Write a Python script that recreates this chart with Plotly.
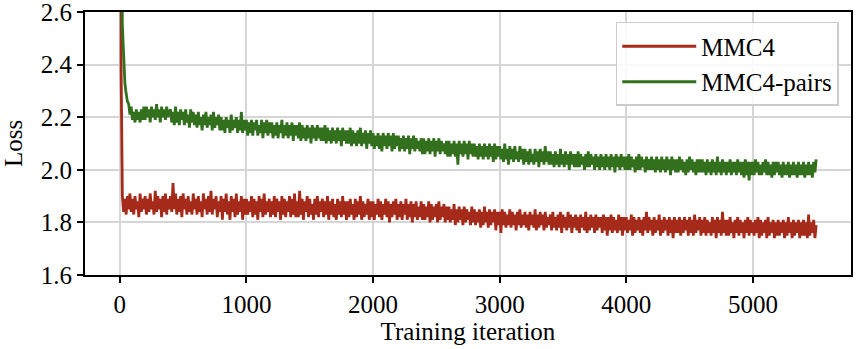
import plotly.graph_objects as go

iters = list(range(0, 5501, 10))

mmc4 = [
    10.5, 2.40, 1.90, 1.84, 1.89, 1.83, 1.90, 1.85, 1.91, 1.84, 1.89, 1.83, 1.90, 1.85, 1.88, 1.82, 1.91, 1.84, 1.89, 1.85,
    1.90, 1.83, 1.89, 1.84, 1.91, 1.85, 1.88, 1.83, 1.92, 1.84, 1.90, 1.85, 1.89, 1.82, 1.90, 1.84, 1.91, 1.83, 1.89, 1.85,
    1.90, 1.84, 1.95, 1.85, 1.91, 1.83, 1.89, 1.84, 1.90, 1.82, 1.91, 1.85, 1.89, 1.83, 1.90, 1.84, 1.88, 1.83, 1.91, 1.85,
    1.89, 1.83, 1.90, 1.84, 1.88, 1.82, 1.91, 1.85, 1.89, 1.83, 1.90, 1.84, 1.92, 1.83, 1.89, 1.85, 1.90, 1.82, 1.88, 1.84,
    1.90, 1.81, 1.89, 1.84, 1.91, 1.83, 1.88, 1.81, 1.90, 1.84, 1.89, 1.82, 1.91, 1.83, 1.88, 1.84, 1.90, 1.81, 1.89, 1.83,
    1.89, 1.83, 1.88, 1.84, 1.90, 1.82, 1.89, 1.83, 1.88, 1.81, 1.90, 1.84, 1.89, 1.82, 1.91, 1.83, 1.88, 1.84, 1.89, 1.82,
    1.88, 1.83, 1.90, 1.82, 1.89, 1.84, 1.88, 1.81, 1.90, 1.83, 1.89, 1.82, 1.88, 1.84, 1.90, 1.82, 1.89, 1.83, 1.91, 1.82,
    1.88, 1.82, 1.92, 1.83, 1.89, 1.81, 1.88, 1.84, 1.90, 1.82, 1.89, 1.83, 1.87, 1.81, 1.89, 1.83, 1.90, 1.82, 1.88, 1.84,
    1.89, 1.82, 1.88, 1.83, 1.90, 1.81, 1.88, 1.83, 1.89, 1.82, 1.87, 1.81, 1.89, 1.83, 1.88, 1.82, 1.90, 1.83, 1.88, 1.81,
    1.88, 1.82, 1.89, 1.83, 1.87, 1.81, 1.89, 1.82, 1.88, 1.83, 1.90, 1.81, 1.88, 1.82, 1.87, 1.83, 1.89, 1.81, 1.88, 1.82,
    1.88, 1.81, 1.87, 1.83, 1.89, 1.82, 1.88, 1.81, 1.87, 1.83, 1.89, 1.82, 1.88, 1.80, 1.87, 1.82, 1.88, 1.83, 1.89, 1.81,
    1.87, 1.82, 1.88, 1.81, 1.87, 1.83, 1.89, 1.81, 1.87, 1.82, 1.88, 1.80, 1.87, 1.82, 1.88, 1.81, 1.86, 1.82, 1.88, 1.81,
    1.87, 1.81, 1.86, 1.82, 1.88, 1.80, 1.87, 1.81, 1.86, 1.82, 1.87, 1.80, 1.88, 1.81, 1.86, 1.82, 1.87, 1.80, 1.86, 1.81,
    1.86, 1.80, 1.85, 1.81, 1.87, 1.79, 1.85, 1.80, 1.86, 1.81, 1.85, 1.79, 1.86, 1.80, 1.85, 1.81, 1.84, 1.79, 1.86, 1.80,
    1.85, 1.79, 1.84, 1.80, 1.85, 1.78, 1.84, 1.79, 1.86, 1.80, 1.84, 1.78, 1.85, 1.79, 1.84, 1.80, 1.85, 1.77, 1.84, 1.79,
    1.84, 1.76, 1.85, 1.79, 1.84, 1.78, 1.83, 1.79, 1.85, 1.78, 1.84, 1.79, 1.83, 1.77, 1.84, 1.79, 1.85, 1.78, 1.83, 1.79,
    1.84, 1.78, 1.83, 1.77, 1.84, 1.79, 1.83, 1.78, 1.85, 1.77, 1.83, 1.78, 1.84, 1.79, 1.83, 1.77, 1.84, 1.78, 1.82, 1.79,
    1.83, 1.77, 1.84, 1.78, 1.82, 1.77, 1.83, 1.78, 1.84, 1.76, 1.83, 1.78, 1.82, 1.77, 1.84, 1.78, 1.83, 1.76, 1.82, 1.78,
    1.83, 1.77, 1.82, 1.76, 1.83, 1.78, 1.82, 1.77, 1.84, 1.76, 1.82, 1.77, 1.83, 1.78, 1.82, 1.76, 1.83, 1.77, 1.82, 1.78,
    1.82, 1.76, 1.83, 1.77, 1.82, 1.75, 1.82, 1.77, 1.83, 1.76, 1.82, 1.77, 1.81, 1.76, 1.83, 1.77, 1.82, 1.75, 1.82, 1.77,
    1.82, 1.76, 1.81, 1.77, 1.83, 1.75, 1.82, 1.76, 1.81, 1.77, 1.82, 1.76, 1.81, 1.75, 1.82, 1.77, 1.84, 1.76, 1.82, 1.77,
    1.81, 1.75, 1.82, 1.76, 1.81, 1.77, 1.83, 1.75, 1.81, 1.76, 1.82, 1.77, 1.81, 1.75, 1.82, 1.76, 1.81, 1.74, 1.82, 1.76,
    1.81, 1.76, 1.82, 1.75, 1.81, 1.76, 1.82, 1.77, 1.81, 1.75, 1.82, 1.76, 1.81, 1.75, 1.83, 1.76, 1.81, 1.77, 1.82, 1.75,
    1.81, 1.76, 1.82, 1.75, 1.81, 1.76, 1.80, 1.75, 1.82, 1.76, 1.81, 1.74, 1.82, 1.76, 1.81, 1.75, 1.84, 1.76, 1.81, 1.75,
    1.81, 1.75, 1.82, 1.76, 1.80, 1.74, 1.81, 1.76, 1.82, 1.75, 1.81, 1.76, 1.80, 1.74, 1.81, 1.76, 1.82, 1.75, 1.81, 1.76,
    1.80, 1.75, 1.81, 1.76, 1.82, 1.74, 1.81, 1.75, 1.80, 1.76, 1.81, 1.74, 1.82, 1.75, 1.80, 1.76, 1.81, 1.74, 1.80, 1.75,
    1.81, 1.75, 1.80, 1.76, 1.81, 1.74, 1.80, 1.75, 1.82, 1.76, 1.80, 1.74, 1.81, 1.75, 1.80, 1.76, 1.81, 1.74, 1.80, 1.75,
    1.81, 1.75, 1.80, 1.74, 1.83, 1.75, 1.80, 1.76, 1.81, 1.74, 1.79,
]

mmc4_pairs = [
    10.5, 3.20, 2.55, 2.40, 2.33, 2.29, 2.26, 2.25, 2.21, 2.24, 2.19, 2.22, 2.18, 2.23, 2.19, 2.22, 2.18, 2.23, 2.19, 2.24,
    2.19, 2.24, 2.20, 2.23, 2.18, 2.24, 2.20, 2.23, 2.19, 2.25, 2.20, 2.23, 2.18, 2.24, 2.20, 2.23, 2.19, 2.24, 2.20, 2.22,
    2.23, 2.18, 2.22, 2.17, 2.24, 2.18, 2.22, 2.17, 2.23, 2.19, 2.22, 2.17, 2.23, 2.18, 2.21, 2.16, 2.23, 2.18, 2.22, 2.17,
    2.21, 2.16, 2.22, 2.17, 2.20, 2.15, 2.21, 2.17, 2.22, 2.16, 2.20, 2.17, 2.21, 2.15, 2.22, 2.16, 2.20, 2.17, 2.21, 2.15,
    2.20, 2.15, 2.19, 2.14, 2.20, 2.16, 2.19, 2.14, 2.21, 2.15, 2.19, 2.16, 2.20, 2.14, 2.19, 2.15, 2.22, 2.14, 2.19, 2.15,
    2.19, 2.13, 2.18, 2.14, 2.19, 2.13, 2.18, 2.15, 2.19, 2.13, 2.17, 2.14, 2.19, 2.12, 2.18, 2.14, 2.19, 2.13, 2.18, 2.14,
    2.18, 2.12, 2.17, 2.13, 2.18, 2.12, 2.17, 2.14, 2.19, 2.12, 2.17, 2.13, 2.18, 2.12, 2.17, 2.13, 2.18, 2.11, 2.17, 2.13,
    2.17, 2.12, 2.18, 2.11, 2.17, 2.12, 2.16, 2.11, 2.17, 2.12, 2.16, 2.10, 2.17, 2.12, 2.16, 2.11, 2.17, 2.12, 2.16, 2.11,
    2.16, 2.11, 2.17, 2.10, 2.16, 2.11, 2.15, 2.10, 2.16, 2.11, 2.15, 2.10, 2.16, 2.11, 2.15, 2.09, 2.16, 2.11, 2.15, 2.10,
    2.15, 2.10, 2.16, 2.09, 2.15, 2.10, 2.14, 2.09, 2.15, 2.10, 2.16, 2.09, 2.14, 2.10, 2.15, 2.08, 2.14, 2.10, 2.15, 2.09,
    2.14, 2.08, 2.13, 2.09, 2.14, 2.08, 2.13, 2.07, 2.14, 2.09, 2.13, 2.08, 2.14, 2.09, 2.13, 2.07, 2.14, 2.08, 2.13, 2.09,
    2.13, 2.07, 2.12, 2.08, 2.13, 2.07, 2.12, 2.08, 2.13, 2.06, 2.12, 2.08, 2.13, 2.07, 2.12, 2.08, 2.11, 2.07, 2.12, 2.06,
    2.12, 2.06, 2.11, 2.07, 2.12, 2.06, 2.11, 2.07, 2.12, 2.05, 2.11, 2.07, 2.12, 2.06, 2.11, 2.07, 2.10, 2.06, 2.11, 2.05,
    2.11, 2.05, 2.10, 2.06, 2.11, 2.05, 2.10, 2.02, 2.11, 2.06, 2.10, 2.05, 2.11, 2.06, 2.10, 2.04, 2.11, 2.06, 2.10, 2.05,
    2.10, 2.05, 2.09, 2.04, 2.10, 2.05, 2.09, 2.04, 2.10, 2.05, 2.09, 2.04, 2.10, 2.05, 2.09, 2.03, 2.10, 2.04, 2.09, 2.05,
    2.09, 2.04, 2.08, 2.03, 2.10, 2.04, 2.08, 2.02, 2.09, 2.04, 2.08, 2.03, 2.09, 2.04, 2.07, 2.03, 2.09, 2.04, 2.08, 2.02,
    2.08, 2.03, 2.07, 2.02, 2.08, 2.03, 2.06, 2.02, 2.08, 2.03, 2.07, 2.01, 2.08, 2.03, 2.07, 2.02, 2.09, 2.03, 2.07, 2.02,
    2.07, 2.02, 2.06, 2.01, 2.07, 2.02, 2.06, 2.01, 2.08, 2.02, 2.06, 2.01, 2.07, 2.02, 2.06, 2.00, 2.07, 2.02, 2.06, 2.01,
    2.06, 2.01, 2.07, 2.01, 2.06, 2.02, 2.05, 2.00, 2.06, 2.01, 2.07, 2.01, 2.06, 2.02, 2.05, 2.00, 2.06, 2.01, 2.05, 2.00,
    2.06, 2.01, 2.05, 2.00, 2.06, 2.01, 2.05, 2.00, 2.06, 2.01, 2.05, 1.99, 2.06, 2.01, 2.05, 2.00, 2.06, 2.01, 2.05, 2.00,
    2.05, 2.00, 2.06, 2.00, 2.05, 2.01, 2.04, 1.99, 2.05, 2.00, 2.06, 2.00, 2.05, 2.01, 2.04, 1.99, 2.05, 2.00, 2.04, 2.00,
    2.05, 2.00, 2.04, 1.99, 2.05, 2.00, 2.04, 1.99, 2.05, 2.00, 2.04, 1.99, 2.05, 2.00, 2.04, 1.98, 2.05, 2.00, 2.04, 1.99,
    2.04, 1.99, 2.05, 2.00, 2.04, 1.99, 2.03, 1.98, 2.04, 1.99, 2.05, 2.00, 2.04, 1.99, 2.03, 1.98, 2.04, 1.99, 2.04, 1.99,
    2.04, 1.99, 2.03, 1.98, 2.04, 1.99, 2.03, 1.98, 2.04, 1.99, 2.03, 1.98, 2.05, 1.99, 2.03, 1.98, 2.04, 1.99, 2.03, 1.98,
    2.03, 1.99, 2.04, 1.98, 2.03, 1.99, 2.03, 1.98, 2.04, 1.99, 2.03, 1.98, 2.03, 1.97, 2.04, 1.98, 2.03, 1.96, 2.03, 1.98,
    2.03, 1.98, 2.04, 1.99, 2.03, 1.98, 2.02, 1.98, 2.03, 1.99, 2.04, 1.98, 2.03, 1.98, 2.02, 1.97, 2.03, 1.98, 2.03, 1.99,
    2.03, 1.98, 2.02, 1.97, 2.03, 1.98, 2.02, 1.98, 2.03, 1.97, 2.02, 1.98, 2.03, 1.98, 2.02, 1.97, 2.03, 1.98, 2.02, 1.98,
    2.03, 1.97, 2.02, 1.98, 2.03, 1.98, 2.02, 1.97, 2.03, 1.99, 2.04,
]

x_ticks = [0, 1000, 2000, 3000, 4000, 5000]
y_ticks = [1.6, 1.8, 2.0, 2.2, 2.4, 2.6]

RED = "#a52a1a"
GREEN = "#33701e"
FONT = "Liberation Serif"

fig = go.Figure()
fig.add_trace(go.Scatter(x=iters, y=mmc4, mode="lines", name="MMC4",
                         line=dict(color=RED, width=2.8)))
fig.add_trace(go.Scatter(x=iters, y=mmc4_pairs, mode="lines", name="MMC4-pairs",
                         line=dict(color=GREEN, width=2.8)))

axis_common = dict(
    showline=True, linecolor="black", linewidth=2, mirror=True,
    ticks="outside", ticklen=6, tickwidth=2, tickcolor="black",
    showgrid=True, gridcolor="#d6d6d6", gridwidth=2, zeroline=False,
    automargin=False, ticklabeloverflow="allow",
    tickfont=dict(family=FONT, size=25, color="black"),
)

fig.update_xaxes(range=[-275, 5775], tickvals=x_ticks,
                 title=dict(text="Training iteration", standoff=0,
                            font=dict(family=FONT, size=25, color="black")),
                 **axis_common)
fig.update_yaxes(range=[1.6, 2.6001], tickvals=y_ticks, tickformat=".1f",
                 title=dict(text="Loss", standoff=14,
                            font=dict(family=FONT, size=25, color="black")),
                 **axis_common)

fig.update_layout(
    width=856, height=349,
    margin=dict(l=85, r=5, t=12, b=74),
    plot_bgcolor="white", paper_bgcolor="white",
    font=dict(family=FONT, size=25, color="black"),
    legend=dict(x=0.984, y=0.962, xanchor="right", yanchor="top",
                bgcolor="rgba(255,255,255,0.85)", bordercolor="#cccccc", borderwidth=1.5,
                font=dict(family=FONT, size=25), itemwidth=74, tracegroupgap=0),
    showlegend=True,
)

# page body has a default 8px margin; drop it so the figure sits at the window corner
fig.write_html("out.html", config={"displayModeBar": False},
               post_script="document.body.style.margin='0';document.body.style.overflow='hidden';")
